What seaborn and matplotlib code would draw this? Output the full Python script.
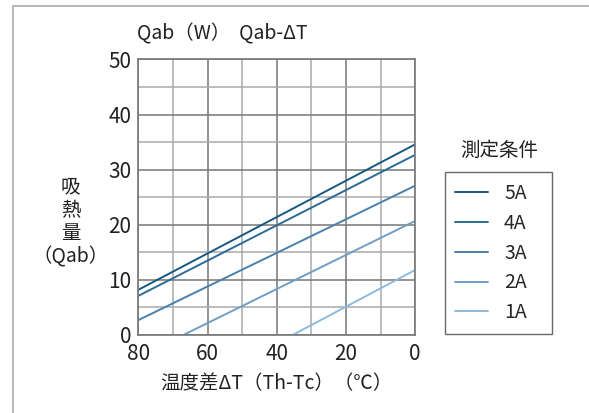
import pandas as pd
import seaborn as sns
import matplotlib.pyplot as plt
from matplotlib.patches import Rectangle

# values
currents = ['5A', '4A', '3A', '2A', '1A']
dt_start = [80, 80, 80, 67, 35.4]      # ΔT where each line begins (left end)
q_start = [8.2, 7.1, 2.7, 0, 0]        # Qab at that ΔT
dt_end = [0, 0, 0, 0, 0]
q_end = [34.6, 32.7, 27.1, 20.7, 11.8]  # Qab at ΔT = 0
colors = ['#17597f', '#2b6b96', '#4a80aa', '#6f9ec6', '#8dbadc']

rows = []
for c, x0, y0, x1, y1 in zip(currents, dt_start, q_start, dt_end, q_end):
    rows.append({'dT': x0, 'Qab': y0, 'cond': c})
    rows.append({'dT': x1, 'Qab': y1, 'cond': c})
df = pd.DataFrame(rows)

sns.set_style('white')
plt.rcParams['font.family'] = ['Noto Sans CJK JP', 'DejaVu Sans']

fig = plt.figure(figsize=(5.89, 4.13), dpi=100)
ax = fig.add_axes([0.235, 0.189, 0.47, 0.667])

# grid: minor lighter, major darker
for x in range(0, 81, 10):
    ax.axvline(x, color='#777777' if x % 20 == 0 else '#aaaaaa', lw=1.1, zorder=0)
for y in range(0, 51, 5):
    ax.axhline(y, color='#777777' if y % 10 == 0 else '#aaaaaa', lw=1.1, zorder=0)

sns.lineplot(data=df, x='dT', y='Qab', hue='cond', palette=colors,
             hue_order=currents, lw=1.4, ax=ax, legend=True)

ax.set_xlim(80, 0)
ax.set_ylim(0, 50)
ax.set_xticks([80, 60, 40, 20, 0])
ax.set_yticks([0, 10, 20, 30, 40, 50])
ax.tick_params(length=0, labelsize=15, colors='#222222')
ax.tick_params(axis='y', pad=5)
ax.tick_params(axis='x', pad=6)
for s in ax.spines.values():
    s.set_color('#777777')
    s.set_linewidth(1.2)

ax.set_xlabel('温度差ΔT（Th-Tc）（℃）', fontsize=14, color='#222222', labelpad=6)
ax.set_ylabel('')
fig.text(0.12, 0.462, '吸\n熱\n量\n（Qab）', ha='center', va='center',
         fontsize=14, color='#222222', linespacing=1.15)
fig.text(0.232, 0.918, 'Qab（W）  Qab-ΔT', ha='left', va='center',
         fontsize=14, color='#222222')

leg = ax.legend(loc='center left', bbox_to_anchor=(0.755, 0.387, 0.182, 0.0),
                bbox_transform=fig.transFigure, mode='expand', frameon=True,
                fancybox=False, fontsize=14, handlelength=1.7, handletextpad=0.8,
                labelspacing=0.45, borderpad=0.55, borderaxespad=0)
leg.get_frame().set_edgecolor('#444444')
leg.get_frame().set_linewidth(1.0)
for h in leg.get_lines():
    h.set_linewidth(1.4)
fig.text(0.848, 0.635, '測定条件', ha='center', va='center', fontsize=14, color='#222222')

# outer frame lines of the original figure
fig.patches.append(Rectangle((0.022, -0.1), 1.2, 1.085, transform=fig.transFigure,
                             fill=False, edgecolor='#aaaaaa', lw=1.2))

fig.savefig('out.png', dpi=100)
